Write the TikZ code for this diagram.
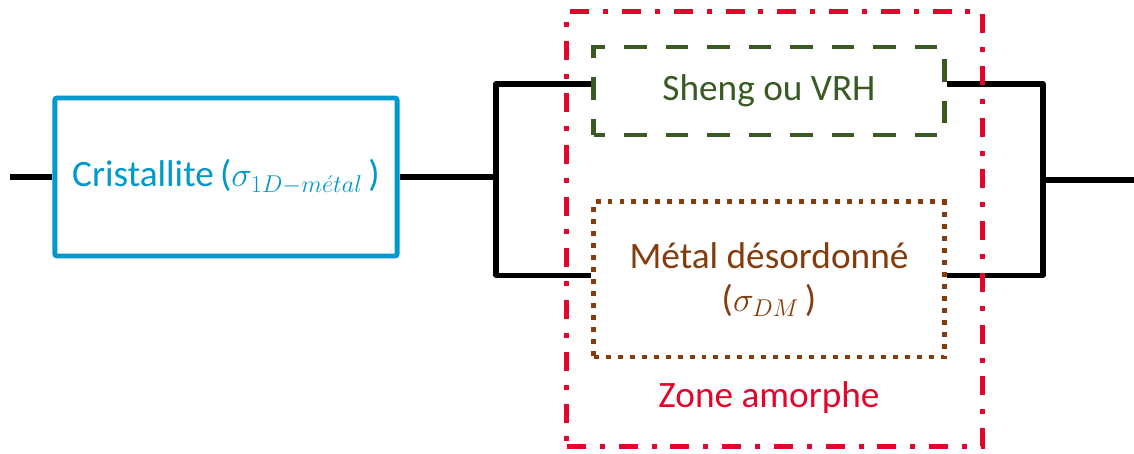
\documentclass[tikz,border=0pt]{standalone}
\usepackage{fontspec}
\setmainfont{Carlito}
\usetikzlibrary{positioning}
\definecolor{cristal}{HTML}{0099CC}
\definecolor{sheng}{HTML}{3A5A24}
\definecolor{desordre}{HTML}{843C0C}
\definecolor{amorphe}{HTML}{E2062C}

\begin{document}
\begin{tikzpicture}[
  x=0.025cm, y=-0.025cm,
  every node/.style={font=\fontsize{26.5}{30.5}\selectfont},
  bloc/.style={rectangle, rounded corners=1.5pt, draw=cristal, text=cristal, line width=3.5pt,
    minimum width=8.55cm, minimum height=3.95cm, align=center},
  vrh/.style={rectangle, draw=sheng, text=sheng, line width=3.5pt,
    dash pattern=on 16pt off 13.5pt, dash phase=8pt,
    minimum width=8.75cm, minimum height=2.2cm, align=center},
  dm/.style={rectangle, draw=desordre, text=desordre, line width=3.5pt,
    dash pattern=on 3.5pt off 5pt,
    minimum width=8.75cm, minimum height=3.875cm, align=center},
  zone/.style={rectangle, draw=amorphe, line width=3.5pt,
    dash pattern=on 13.5pt off 9.9pt on 3.5pt off 9.9pt,
    minimum width=10.375cm, minimum height=10.85cm},
  fil/.style={line width=3.6pt, black, line join=round},
]
\useasboundingbox (0,0) rectangle (1134,454);

% Blocs
\node[bloc] (cris) at (226,177) {Cristallite\,($\sigma_{1D-m\acute{e}tal}\,$)};
\node[vrh] (sheng) at (769,91) {Sheng ou VRH};
\node[dm, below=1.55cm of sheng] (metal) {Métal désordonné\\($\sigma_{DM}\,$)};
\node[text=amorphe, inner sep=0pt, below=0.55cm of metal] (label) {Zone amorphe};

% Fils
\coordinate (entree) at (10,177);
\coordinate (jg) at (496,177);
\coordinate (jd) at (1043,180);
\coordinate (sortie) at (1134,180);
\draw[fil] (entree) -- (cris.west);
\draw[fil] (cris.east) -- (jg);
\draw[fil] ([yshift=0.175cm]sheng.west) -| (jg) |- ([yshift=0.11cm]metal.west);
\draw[fil] ([yshift=0.175cm]sheng.east) -| (jd) |- ([yshift=0.11cm]metal.east);
\draw[fil] (jd) -- (sortie);

% Zone amorphe
\node[zone] (amorphe) at (774.5,229) {};
\end{tikzpicture}
\end{document}
